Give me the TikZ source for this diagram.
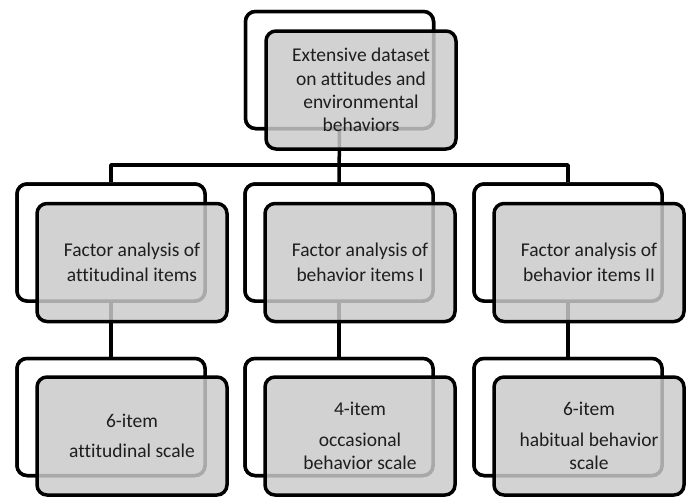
\documentclass[tikz,border=0pt]{standalone}
\usepackage{fontspec}
\setmainfont{Carlito}[Ligatures=NoCommon]
\begin{document}
\begin{tikzpicture}[x=1pt,y=-1pt,
  backbox/.style={draw=black, line width=3.5pt, rounded corners=10pt, fill=white,
    minimum width=188pt, minimum height=117pt, inner sep=0pt},
  frontbox/.style={draw=black, line width=3.5pt, rounded corners=10pt,
    fill={rgb,255:red,202;green,202;blue,202}, fill opacity=0.84, text opacity=1,
    minimum width=190pt, minimum height=118pt, inner sep=0pt, align=center,
    text={rgb,255:red,30;green,30;blue,30},
    font=\fontsize{19.5}{23.3}\selectfont},
  link/.style={line width=3.5pt, line join=round}]
\useasboundingbox (0,0) rectangle (688,496);
% back boxes (positions)
\path (339.5,70) node[backbox] (tb) {};
\path (111,242.5) node[backbox] (lb) {};
\path (339,242.5) node[backbox] (mb) {};
\path (568,242.5) node[backbox] (rb) {};
\path (111,417) node[backbox] (lbb) {};
\path (339,417) node[backbox] (mbb) {};
\path (568,417) node[backbox] (rbb) {};
% connectors
\coordinate (hub) at (339.5,165);
\draw[link] (lb.north) -- (lb.north |- hub) -- (rb.north |- hub) -- (rb.north);
\draw[link] (tb.south) -- (mb.north);
\draw[link] (lb.south) -- (lbb.north);
\draw[link] (mb.south) -- (mbb.north);
\draw[link] (rb.south) -- (rbb.north);
% redraw back boxes above connectors
\path (339.5,70) node[backbox] {};
\path (111,242.5) node[backbox] {};
\path (339,242.5) node[backbox] {};
\path (568,242.5) node[backbox] {};
\path (111,417) node[backbox] {};
\path (339,417) node[backbox] {};
\path (568,417) node[backbox] {};
% front boxes
\node[frontbox] (tf) at (361,90) {Extensive dataset\\on attitudes and\\environmental\\behaviors};
\node[frontbox] (lf) at (132,262.5) {Factor analysis of\\[1.5pt]attitudinal items};
\node[frontbox] (mf) at (360,262.5) {Factor analysis of\\[1.5pt]behavior items I};
\node[frontbox] (rf) at (589,262.5) {Factor analysis of\\[1.5pt]behavior items II};
\node[frontbox] (lbf) at (132,436) {6-item\\[7pt]attitudinal scale};
\node[frontbox] (mbf) at (360,436) {4-item\\[7pt]occasional\\behavior scale};
\node[frontbox] (rbf) at (589,436) {6-item\\[7pt]habitual behavior\\scale};
\end{tikzpicture}
\end{document}
